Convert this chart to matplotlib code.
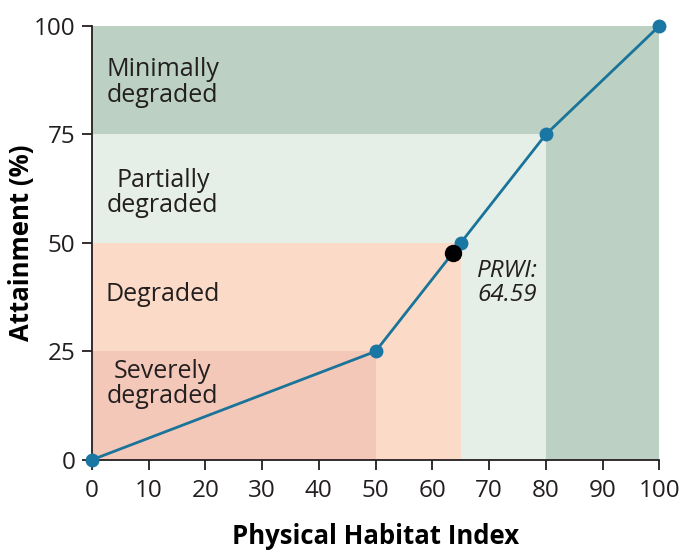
import matplotlib.pyplot as plt
from matplotlib.patches import Rectangle

plt.rcParams['font.family'] = ['Open Sans', 'DejaVu Sans']

# curve relating habitat index to attainment
phi = [0, 50, 65, 80, 100]
attain = [0, 25, 50, 75, 100]

# condition zones (upper x, upper y), outer to inner
zone_x = [100, 80, 65, 50]
zone_y = [100, 75, 50, 25]
zone_colors = ['#bcd1c3', '#e6efe7', '#fbdbc7', '#f4c8b8']
zone_names = ['Minimally\ndegraded', 'Partially\ndegraded', 'Degraded', 'Severely\ndegraded']
name_y = [87, 61.5, 38, 17.5]

prwi_x, prwi_y = 63.6, 47.7
prwi_label = 'PRWI:\n64.59'

fig = plt.figure(figsize=(6.86, 5.54), dpi=100)
ax = fig.add_axes([0.134, 0.170, 0.827, 0.783])

for xe, ye, col in zip(zone_x, zone_y, zone_colors):
    ax.add_patch(Rectangle((0, 0), xe, ye, facecolor=col, edgecolor='none', zorder=0))

for name, yy in zip(zone_names, name_y):
    ax.text(12.5, yy, name, ha='center', va='center', fontsize=18,
            color='#231f20', linespacing=1.02)

ax.plot(phi, attain, color='#1a7399', lw=2, marker='o', ms=9,
        mfc='#1a77a3', mec='#1a77a3', clip_on=False, zorder=3)
ax.plot(prwi_x, prwi_y, 'o', color='black', ms=11.5, zorder=4)
ax.text(73.2, 40.8, prwi_label, ha='center', va='center', fontsize=17.5,
        style='italic', color='#231f20', linespacing=1.0)

ax.set_xlim(0, 100)
ax.set_ylim(0, 100)
ax.set_xticks(range(0, 101, 10))
ax.set_yticks([0, 25, 50, 75, 100])
ax.tick_params(labelsize=17.5, length=7, width=1.3, color='#231f20', labelcolor='#231f20')
ax.tick_params(axis='x', pad=7)
ax.tick_params(axis='y', pad=5)
for s in ['top', 'right']:
    ax.spines[s].set_visible(False)
for s in ['left', 'bottom']:
    ax.spines[s].set_linewidth(1.3)
    ax.spines[s].set_color('#231f20')

ax.set_xlabel('Physical Habitat Index', fontsize=18.5, fontweight='bold', labelpad=14)
ax.set_ylabel('Attainment (%)', fontsize=18.5, fontweight='bold', labelpad=-1)

plt.savefig('out.png', dpi=100)
